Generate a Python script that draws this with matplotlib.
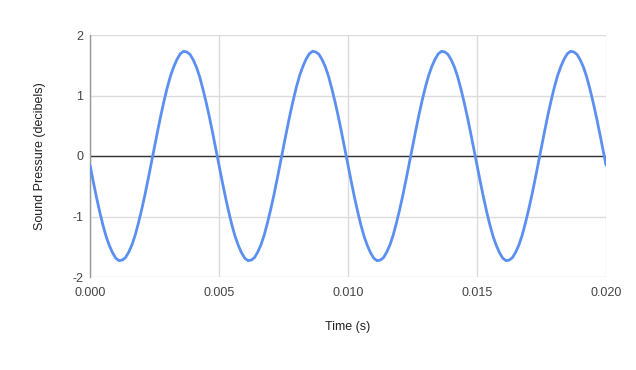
import numpy as np
import matplotlib
matplotlib.use("Agg")
import matplotlib.pyplot as plt

plt.rcParams["font.family"] = ["Liberation Sans", "DejaVu Sans"]
plt.rcParams["axes.unicode_minus"] = False

# sound pressure, one sample every 0.000125 s (0 .. 0.02 s)
pressure = [
    -0.15, -0.42, -0.68, -0.92, -1.14, -1.33, -1.48, -1.60, -1.69, -1.73,
    -1.72, -1.68, -1.59, -1.47, -1.31, -1.11, -0.89, -0.65, -0.39, -0.12,
    0.15, 0.42, 0.68, 0.92, 1.14, 1.33, 1.48, 1.60, 1.69, 1.73,
    1.72, 1.68, 1.59, 1.47, 1.31, 1.11, 0.89, 0.65, 0.39, 0.12,
    -0.15, -0.42, -0.68, -0.92, -1.14, -1.33, -1.48, -1.60, -1.69, -1.73,
    -1.72, -1.68, -1.59, -1.47, -1.31, -1.11, -0.89, -0.65, -0.39, -0.12,
    0.15, 0.42, 0.68, 0.92, 1.14, 1.33, 1.48, 1.60, 1.69, 1.73,
    1.72, 1.68, 1.59, 1.47, 1.31, 1.11, 0.89, 0.65, 0.39, 0.12,
    -0.15, -0.42, -0.68, -0.92, -1.14, -1.33, -1.48, -1.60, -1.69, -1.73,
    -1.72, -1.68, -1.59, -1.47, -1.31, -1.11, -0.89, -0.65, -0.39, -0.12,
    0.15, 0.42, 0.68, 0.92, 1.14, 1.33, 1.48, 1.60, 1.69, 1.73,
    1.72, 1.68, 1.59, 1.47, 1.31, 1.11, 0.89, 0.65, 0.39, 0.12,
    -0.15, -0.42, -0.68, -0.92, -1.14, -1.33, -1.48, -1.60, -1.69, -1.73,
    -1.72, -1.68, -1.59, -1.47, -1.31, -1.11, -0.89, -0.65, -0.39, -0.12,
    0.15, 0.42, 0.68, 0.92, 1.14, 1.33, 1.48, 1.60, 1.69, 1.73,
    1.72, 1.68, 1.59, 1.47, 1.31, 1.11, 0.89, 0.65, 0.39, 0.12,
    -0.15,
]
time = np.linspace(0, 0.02, len(pressure))

xticks = [0.000, 0.005, 0.010, 0.015, 0.020]
xtick_labels = ["0.000", "0.005", "0.010", "0.015", "0.020"]
yticks = [-2, -1, 0, 1, 2]

fig = plt.figure(figsize=(6.36, 3.70), dpi=100)
ax = fig.add_axes([90/636, 1-277/370, 516/636, 242/370])

ax.plot(time, pressure, color="#5b8ff0", lw=2, solid_joinstyle="round",
        solid_capstyle="round", zorder=3)
ax.axhline(0, color="#333333", lw=1, zorder=2)

ax.set_xlim(0, 0.02)
ax.set_ylim(-2, 2)
ax.set_xticks(xticks)
ax.set_xticklabels(xtick_labels)
ax.set_yticks(yticks)
ax.grid(True, color="#dcdcdc", lw=1)
ax.set_axisbelow(True)
ax.tick_params(length=0, labelsize=9, colors="#444444")
ax.tick_params(axis="x", pad=7)
ax.tick_params(axis="y", pad=5)

for s in ["top", "right", "bottom"]:
    ax.spines[s].set_visible(False)
ax.spines["left"].set_color("#999999")
ax.spines["left"].set_linewidth(1)

ax.set_xlabel("Time (s)", fontsize=9, color="#222222", labelpad=16)
ax.set_ylabel("Sound Pressure (decibels)", fontsize=9, color="#222222", labelpad=19)

fig.savefig("out.png", dpi=100, facecolor="white")
